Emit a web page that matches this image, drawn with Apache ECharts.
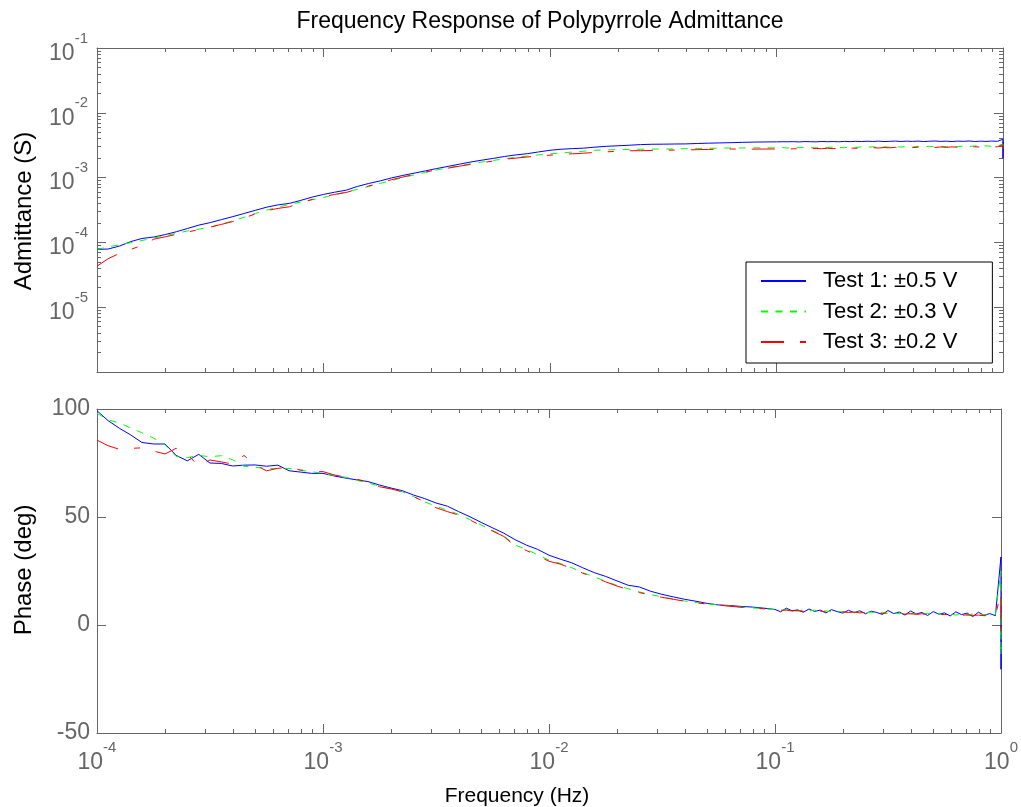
<!DOCTYPE html>
<html><head><meta charset="utf-8">
<script src="https://cdn.jsdelivr.net/npm/echarts@6/dist/echarts.min.js"></script>
<style>html,body{margin:0;padding:0;background:#fff}#c{width:1021px;height:807px}</style>
</head><body><div id="c"></div>
<script>
// Frequencies (Hz)
const freq = [
  1.00e-4,1.12e-4,1.26e-4,1.41e-4,1.58e-4,1.78e-4,2.00e-4,2.24e-4,2.51e-4,2.82e-4,
  3.16e-4,3.55e-4,3.98e-4,4.47e-4,5.01e-4,5.62e-4,6.31e-4,7.08e-4,7.94e-4,8.91e-4,
  1.00e-3,1.12e-3,1.26e-3,1.41e-3,1.58e-3,1.78e-3,2.00e-3,2.24e-3,2.51e-3,2.82e-3,
  3.16e-3,3.55e-3,3.98e-3,4.47e-3,5.01e-3,5.62e-3,6.31e-3,7.08e-3,7.94e-3,8.91e-3,
  1.00e-2,1.12e-2,1.26e-2,1.41e-2,1.58e-2,1.78e-2,2.00e-2,2.24e-2,2.51e-2,2.82e-2,
  3.16e-2,3.55e-2,3.98e-2,4.47e-2,5.01e-2,5.62e-2,6.31e-2,7.08e-2,7.94e-2,8.91e-2,
  0.1000,0.1059,0.1122,0.1189,0.1259,0.1334,0.1413,0.1496,0.1585,0.1679,
  0.1778,0.1884,0.1995,0.2113,0.2239,0.2371,0.2512,0.2661,0.2818,0.2985,
  0.3162,0.3350,0.3548,0.3758,0.3981,0.4217,0.4467,0.4732,0.5012,0.5309,
  0.5623,0.5957,0.6310,0.6683,0.7079,0.7499,0.7943,0.8414,0.8913,0.9441,
  0.9990,0.9995,1.0000
];

// Admittance (S)
const admTest1 = [
  7.8e-5,7.9e-5,8.8e-5,1.03e-4,1.15e-4,1.21e-4,1.32e-4,1.46e-4,1.64e-4,1.85e-4,
  2.02e-4,2.25e-4,2.5e-4,2.8e-4,3.13e-4,3.5e-4,3.8e-4,4.0e-4,4.45e-4,5.0e-4,
  5.5e-4,5.95e-4,6.4e-4,7.3e-4,8.1e-4,8.9e-4,9.9e-4,1.08e-3,1.17e-3,1.27e-3,
  1.38e-3,1.49e-3,1.61e-3,1.74e-3,1.86e-3,1.98e-3,2.12e-3,2.24e-3,2.34e-3,2.49e-3,
  2.64e-3,2.74e-3,2.80e-3,2.85e-3,2.95e-3,3.04e-3,3.10e-3,3.16e-3,3.23e-3,3.27e-3,
  3.28e-3,3.30e-3,3.31e-3,3.36e-3,3.40e-3,3.43e-3,3.46e-3,3.50e-3,3.53e-3,3.55e-3,
  3.56e-3,3.58e-3,3.57e-3,3.59e-3,3.55e-3,3.60e-3,3.58e-3,3.56e-3,3.61e-3,3.58e-3,
  3.60e-3,3.57e-3,3.62e-3,3.59e-3,3.63e-3,3.60e-3,3.64e-3,3.61e-3,3.65e-3,3.60e-3,
  3.63e-3,3.66e-3,3.61e-3,3.65e-3,3.62e-3,3.66e-3,3.60e-3,3.64e-3,3.67e-3,3.62e-3,
  3.65e-3,3.60e-3,3.66e-3,3.63e-3,3.67e-3,3.61e-3,3.65e-3,3.62e-3,3.66e-3,3.63e-3,
  3.9e-3,2.0e-3,3.6e-3
];
const admTest2 = [
  7.8e-5,8.5e-5,9.2e-5,9.9e-5,1.07e-4,1.17e-4,1.27e-4,1.38e-4,1.5e-4,1.6e-4,
  1.72e-4,1.92e-4,2.15e-4,2.45e-4,2.8e-4,3.15e-4,3.5e-4,3.85e-4,4.2e-4,4.55e-4,
  4.95e-4,5.45e-4,6.0e-4,6.6e-4,7.3e-4,8.15e-4,9.0e-4,1.0e-3,1.1e-3,1.2e-3,
  1.31e-3,1.42e-3,1.53e-3,1.63e-3,1.74e-3,1.84e-3,1.95e-3,2.06e-3,2.15e-3,2.24e-3,
  2.32e-3,2.40e-3,2.48e-3,2.56e-3,2.64e-3,2.68e-3,2.70e-3,2.72e-3,2.74e-3,2.75e-3,
  2.76e-3,2.77e-3,2.80e-3,2.82e-3,2.83e-3,2.85e-3,2.86e-3,2.87e-3,2.88e-3,2.88e-3,
  2.88e-3,2.91e-3,2.86e-3,2.93e-3,2.89e-3,2.95e-3,2.90e-3,2.87e-3,2.94e-3,2.91e-3,
  2.96e-3,2.92e-3,2.89e-3,2.97e-3,2.93e-3,2.98e-3,2.92e-3,2.99e-3,2.95e-3,3.00e-3,
  2.94e-3,3.01e-3,2.96e-3,3.02e-3,2.97e-3,3.03e-3,2.98e-3,3.04e-3,2.99e-3,3.05e-3,
  3.00e-3,3.06e-3,3.01e-3,3.07e-3,3.02e-3,3.08e-3,3.03e-3,3.09e-3,3.04e-3,3.08e-3,
  3.3e-3,2.7e-3,3.05e-3
];
const admTest3 = [
  4.3e-5,5.6e-5,6.8e-5,7.8e-5,9.0e-5,1.12e-4,1.22e-4,1.33e-4,1.45e-4,1.57e-4,
  1.72e-4,1.9e-4,2.1e-4,2.4e-4,2.75e-4,3.1e-4,3.35e-4,3.55e-4,4.1e-4,4.6e-4,
  5.1e-4,5.5e-4,5.9e-4,6.6e-4,7.4e-4,8.2e-4,9.3e-4,1.02e-3,1.12e-3,1.22e-3,
  1.31e-3,1.40e-3,1.5e-3,1.6e-3,1.7e-3,1.8e-3,1.92e-3,2.0e-3,2.08e-3,2.16e-3,
  2.22e-3,2.28e-3,2.33e-3,2.38e-3,2.45e-3,2.5e-3,2.55e-3,2.6e-3,2.6e-3,2.62e-3,
  2.64e-3,2.66e-3,2.67e-3,2.7e-3,2.72e-3,2.74e-3,2.76e-3,2.76e-3,2.75e-3,2.76e-3,
  2.76e-3,2.78e-3,2.75e-3,2.79e-3,2.77e-3,2.80e-3,2.78e-3,2.82e-3,2.79e-3,2.84e-3,
  2.80e-3,2.85e-3,2.82e-3,2.87e-3,2.83e-3,2.88e-3,2.85e-3,2.90e-3,2.86e-3,2.91e-3,
  2.88e-3,2.93e-3,2.89e-3,2.94e-3,2.90e-3,2.95e-3,2.91e-3,2.96e-3,2.92e-3,2.97e-3,
  2.93e-3,2.98e-3,2.94e-3,2.98e-3,2.95e-3,2.99e-3,2.96e-3,3.00e-3,2.97e-3,2.99e-3,
  3.2e-3,2.8e-3,2.98e-3
];

// Phase (deg)
const phaseTest1 = [
  99.2,94.6,91.0,88.0,84.5,83.8,83.8,78.5,76.0,79.0,
  75.0,74.8,73.6,74.0,74.1,73.5,74.0,71.4,70.8,70.2,
  70.2,69.0,68.0,67.2,66.4,64.8,63.4,62.2,60.2,58.5,
  56.5,55.0,52.5,50.1,47.5,45.0,42.5,39.5,37.0,35.0,
  32.3,30.5,28.8,26.5,24.3,22.5,20.4,18.4,17.6,15.6,
  14.2,13.0,11.9,11.0,10.0,9.3,9.0,8.6,8.3,7.8,
  7.2,6.1,7.8,6.6,7.0,5.9,7.4,6.3,6.9,5.6,
  7.1,6.2,5.5,6.8,5.7,6.6,5.2,6.4,5.8,4.9,
  6.7,5.3,6.0,4.6,6.5,5.1,5.8,4.4,6.2,5.0,
  5.6,4.2,6.1,4.8,5.5,3.9,5.9,4.5,5.3,4.3,
  31.5,-20.5,4.6
];
const phaseTest2 = [
  98.0,95.0,93.5,91.2,89.0,86.5,83.5,78.0,77.5,78.5,
  77.9,78.4,76.5,73.5,73.0,72.5,72.5,72.5,71.6,71.0,
  70.2,69.2,68.4,67.0,65.8,64.3,63.0,61.7,59.5,57.0,
  55.0,53.2,51.2,48.8,46.3,43.8,41.3,37.0,35.0,32.5,
  30.0,28.5,26.5,24.3,22.3,20.3,18.3,16.8,15.3,14.1,
  13.0,12.0,11.1,10.4,9.8,9.3,8.8,8.3,7.9,7.6,
  7.1,6.6,7.3,6.8,6.4,7.0,6.5,6.9,6.2,6.6,
  6.0,6.5,5.9,6.3,5.7,6.2,5.6,6.0,5.4,5.9,
  5.3,5.8,5.2,5.6,5.0,5.5,4.9,5.4,4.8,5.3,
  4.7,5.2,4.6,5.0,4.5,5.1,4.4,4.9,4.3,4.8,
  25.0,-14.0,4.5
];
const phaseTest3 = [
  85.6,83.0,81.3,81.8,82.0,80.5,79.2,81.8,79.2,73.3,
  76.4,75.5,74.5,78.5,74.1,71.4,72.5,73.0,71.8,71.0,
  71.0,69.5,68.4,67.4,66.4,64.0,63.0,61.7,59.5,57.0,
  54.3,52.5,50.9,48.6,46.0,43.5,41.0,36.5,34.5,32.0,
  29.5,28.2,26.2,24.0,22.0,20.0,18.0,16.5,15.0,13.9,
  12.8,11.9,11.0,10.3,9.7,9.2,8.7,8.2,7.8,7.5,
  7.0,6.8,6.9,6.5,6.7,6.3,6.6,6.2,6.4,6.0,
  6.3,5.9,6.1,5.8,6.0,5.6,5.9,5.5,5.7,5.3,
  5.6,5.2,5.4,5.0,5.3,4.9,5.2,4.8,5.0,4.7,
  4.9,4.6,4.8,4.5,4.7,4.4,4.6,4.3,4.5,4.2,
  15.0,-4.0,4.4
];

const seriesNames = ['Test 1: \u00b10.5 V', 'Test 2: \u00b10.3 V', 'Test 3: \u00b10.2 V'];
const seriesColors = ['#0000ff', '#00ff00', '#ff0000'];
const phaseTicks = [-50, 0, 50, 100];

const FONT = '"Liberation Sans", Arial, sans-serif';
const AX = '#666666';

const supLabel = function (v) {
  const e = Math.round(Math.log10(v));
  return '{b|10}{s|' + e + '}';
};
const rich = {
  b: { fontSize: 23, color: AX, fontFamily: FONT, padding: [11, 0, 0, 0], verticalAlign: 'bottom' },
  s: { fontSize: 15, color: AX, fontFamily: FONT, verticalAlign: 'top' }
};

function frame(extra) {
  return Object.assign({
    axisLine: { show: true, onZero: false, lineStyle: { color: AX, width: 1 } },
    axisTick: { show: true, inside: true, length: 9, lineStyle: { color: AX } },
    splitLine: { show: false },
    axisLabel: { show: false }
  }, extra);
}
const logMinor = { show: true, splitNumber: 9, length: 4, lineStyle: { color: AX } };

const xAxes = [
  frame({ gridIndex: 0, type: 'log', min: 1e-4, max: 1, position: 'bottom', minorTick: logMinor }),
  frame({ gridIndex: 0, type: 'log', min: 1e-4, max: 1, position: 'top', minorTick: logMinor }),
  frame({ gridIndex: 1, type: 'log', min: 1e-4, max: 1, position: 'bottom', minorTick: logMinor,
    axisLabel: { show: true, formatter: supLabel, rich: rich, margin: 7 } }),
  frame({ gridIndex: 1, type: 'log', min: 1e-4, max: 1, position: 'top', minorTick: logMinor })
];
const yAxes = [
  frame({ gridIndex: 0, type: 'log', min: 1e-6, max: 1e-1, position: 'left', minorTick: logMinor,
    axisLabel: { show: true, margin: 9, rich: rich,
      formatter: function (v) { const e = Math.round(Math.log10(v)); return e === -6 ? '' : supLabel(v); } } }),
  frame({ gridIndex: 0, type: 'log', min: 1e-6, max: 1e-1, position: 'right', minorTick: logMinor }),
  frame({ gridIndex: 1, type: 'value', min: phaseTicks[0], max: phaseTicks[phaseTicks.length - 1], interval: 50, position: 'left',
    axisLabel: { show: true, margin: 7, fontSize: 23, color: AX, fontFamily: FONT } }),
  frame({ gridIndex: 1, type: 'value', min: phaseTicks[0], max: phaseTicks[phaseTicks.length - 1], interval: 50, position: 'right' })
];

const dashTypes = ['solid', [7, 7.5], [23, 16, 6, 16]];
const admData = [admTest1, admTest2, admTest3];
const phaseData = [phaseTest1, phaseTest2, phaseTest3];

const series = [];
for (let k = 0; k < 3; k++) {
  series.push({
    name: seriesNames[k], type: 'line', xAxisIndex: 0, yAxisIndex: 0,
    symbol: 'none', showSymbol: false, clip: true, animation: false,
    lineStyle: { color: seriesColors[k], width: 1, type: dashTypes[k] },
    itemStyle: { color: seriesColors[k] },
    data: freq.map(function (f, i) { return [f, admData[k][i]]; })
  });
}
for (let k = 0; k < 3; k++) {
  series.push({
    name: seriesNames[k], type: 'line', xAxisIndex: 2, yAxisIndex: 2,
    symbol: 'none', showSymbol: false, clip: true, animation: false,
    lineStyle: { color: seriesColors[k], width: 1, type: dashTypes[k] },
    itemStyle: { color: seriesColors[k] },
    data: freq.map(function (f, i) { return [f, phaseData[k][i]]; })
  });
}

const chart = echarts.init(document.getElementById('c'), null, { renderer: 'canvas' });
chart.setOption({
  animation: false,
  backgroundColor: '#ffffff',
  grid: [
    { left: 97, top: 48, width: 906, height: 324, containLabel: false },
    { left: 97, top: 409, width: 906, height: 324, containLabel: false }
  ],
  xAxis: xAxes,
  yAxis: yAxes,
  legend: {
    data: seriesNames, orient: 'vertical', left: 746, top: 262,
    itemWidth: 45, itemHeight: 1, itemGap: 6.5,
    itemStyle: { opacity: 0 },
    padding: [7, 35, 9, 14],
    borderColor: '#000', borderWidth: 1, backgroundColor: '#fff',
    selectedMode: false,
    textStyle: { fontSize: 22, color: '#000', fontFamily: FONT, lineHeight: 24, padding: [0, 0, 0, 12] }
  },
  graphic: [
    { type: 'text', x: 540, y: 22, style: { text: 'Frequency Response of Polypyrrole Admittance', fill: '#000', fontSize: 23, fontFamily: FONT, align: 'center', verticalAlign: 'middle' } },
    { type: 'text', x: 517, y: 796, style: { text: 'Frequency (Hz)', fill: '#000', fontSize: 21, fontFamily: FONT, align: 'center', verticalAlign: 'middle' } },
    { type: 'text', x: 24, y: 211, rotation: Math.PI / 2, style: { text: 'Admittance (S)', fill: '#000', fontSize: 24, fontFamily: FONT, align: 'center', verticalAlign: 'middle' } },
    { type: 'text', x: 24, y: 570, rotation: Math.PI / 2, style: { text: 'Phase (deg)', fill: '#000', fontSize: 24, fontFamily: FONT, align: 'center', verticalAlign: 'middle' } }
  ],
  series: series
});
</script>
</body></html>
